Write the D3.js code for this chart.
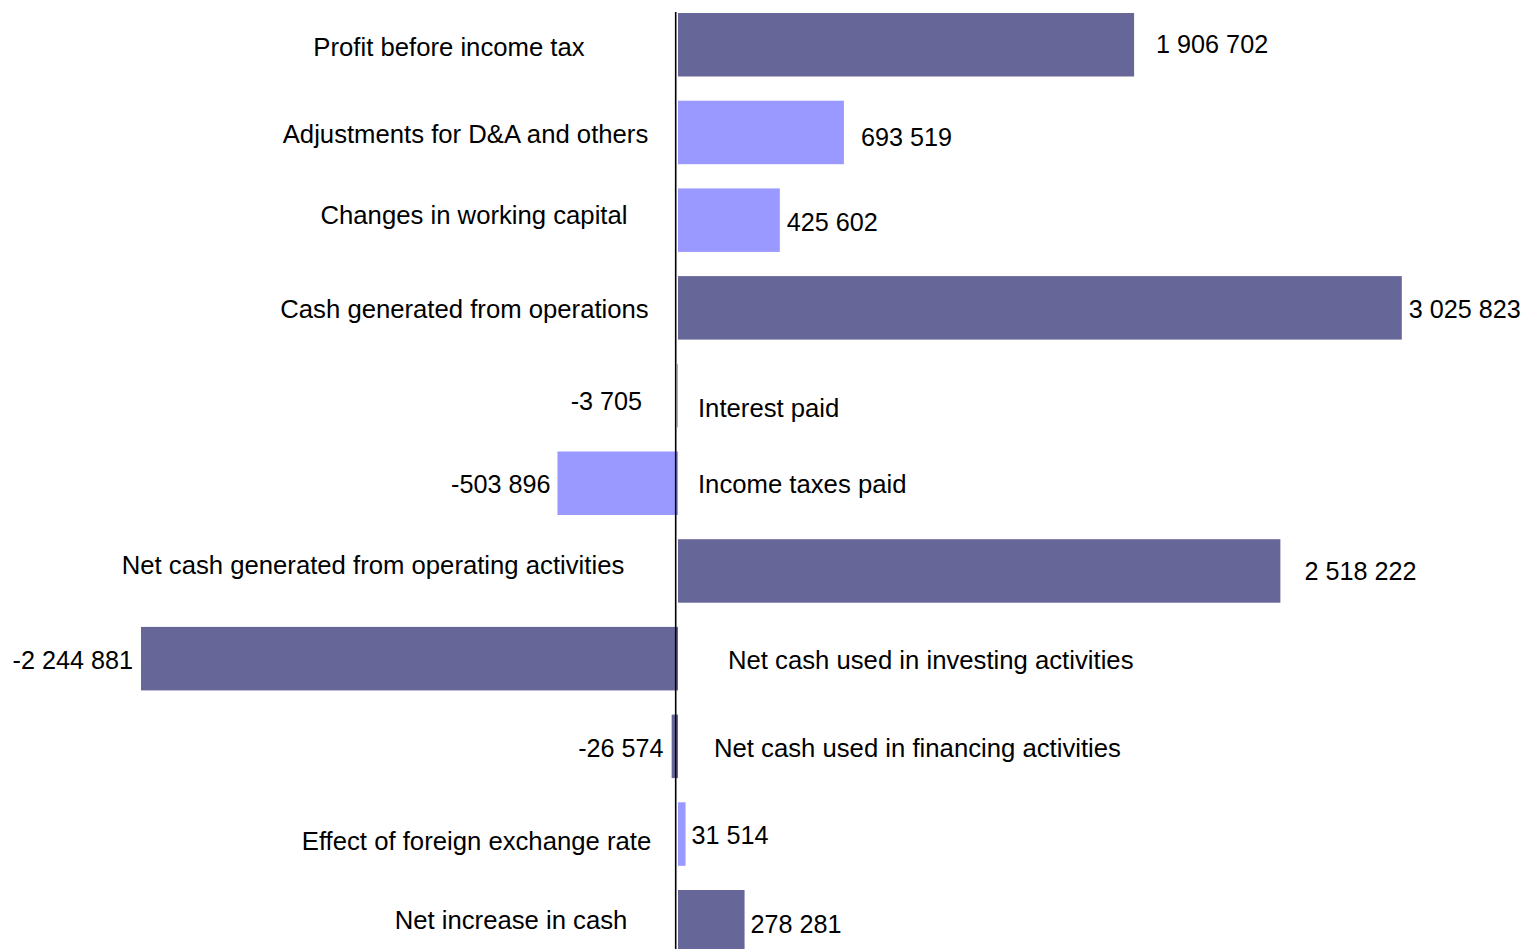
<!DOCTYPE html>
<html>
<head>
<meta charset="utf-8">
<script src="https://cdn.jsdelivr.net/npm/d3@7"></script>
<style>
  html, body { margin: 0; padding: 0; background: #fff; }
  svg { display: block; }
  text { font-family: "Liberation Sans", Arial, sans-serif; fill: #000; }
  .cat { font-size: 25.7px; }
  .val { font-size: 25.2px; }
</style>
</head>
<body>
<svg id="chart" width="1524" height="949"></svg>
<script>
// data
const categories = [
  "Profit before income tax",
  "Adjustments for D&A and others",
  "Changes in working capital",
  "Cash generated from operations",
  "Interest paid",
  "Income taxes paid",
  "Net cash generated from operating activities",
  "Net cash used in investing activities",
  "Net cash used in financing activities",
  "Effect of foreign exchange rate",
  "Net increase in cash"
];
const values = [1906702, 693519, 425602, 3025823, -3705, -503896, 2518222, -2244881, -26574, 31514, 278281];
const isTotal = [true, false, false, true, false, false, true, true, true, false, true];
const valueLabels = ["1 906 702", "693 519", "425 602", "3 025 823", "-3 705", "-503 896",
  "2 518 222", "-2 244 881", "-26 574", "31 514", "278 281"];

// label nudges (hand placed in the original)
// category labels: [dx from zero line to label centre / start, dy from band centre]
const catNudge = [[-229, 2], [-212.5, 1.5], [-204, -5], [-213.5, 1], [20, 12.5], [20, 1],
  [-305, -6], [50, 1.5], [36, 1.5], [-201.5, 7], [-167, -2]];
// value labels: [gap from bar end, dy from band centre]
const valNudge = [[22, -1], [17, 4.5], [7, 2], [7, 1], [35, 5.5], [7, 1],
  [24, 0], [8, 1.5], [8, 1.5], [6, 1], [6, 2.5]];

const dark = "#666699", light = "#9999ff";

const svg = d3.select("#chart");

const x = d3.scaleLinear()
  .domain([d3.min(values), d3.max(values)])
  .range([141, 1401.8]);

const y = d3.scaleBand()
  .domain(categories)
  .range([13, 953.5])
  .paddingInner(0.276)
  .paddingOuter(0);

const x0 = x(0);

// bars
svg.append("g")
  .selectAll("rect")
  .data(values)
  .join("rect")
  .attr("x", d => Math.min(x(d), x0))
  .attr("y", (d, i) => y(categories[i]))
  .attr("width", d => Math.abs(x(d) - x0))
  .attr("height", y.bandwidth())
  .attr("fill", (d, i) => isTotal[i] ? dark : light);

// zero line
svg.append("line")
  .attr("x1", x0 - 2.3).attr("x2", x0 - 2.3)
  .attr("y1", 12).attr("y2", 949)
  .attr("stroke", "#000")
  .attr("stroke-width", 1.6);

const mid = i => y(categories[i]) + y.bandwidth() / 2;

// category labels
svg.append("g")
  .selectAll("text")
  .data(categories)
  .join("text")
  .attr("class", "cat")
  .attr("x", (d, i) => x0 + catNudge[i][0])
  .attr("y", (d, i) => mid(i) + catNudge[i][1] + 9)
  .attr("text-anchor", (d, i) => values[i] >= 0 ? "middle" : "start")
  .text(d => d);

// value labels
svg.append("g")
  .selectAll("text")
  .data(values)
  .join("text")
  .attr("class", "val")
  .attr("x", (d, i) => d >= 0 ? x(d) + valNudge[i][0] : x(d) - valNudge[i][0])
  .attr("y", (d, i) => mid(i) + valNudge[i][1] + 9)
  .attr("text-anchor", d => d >= 0 ? "start" : "end")
  .text((d, i) => valueLabels[i]);
</script>
</body>
</html>
